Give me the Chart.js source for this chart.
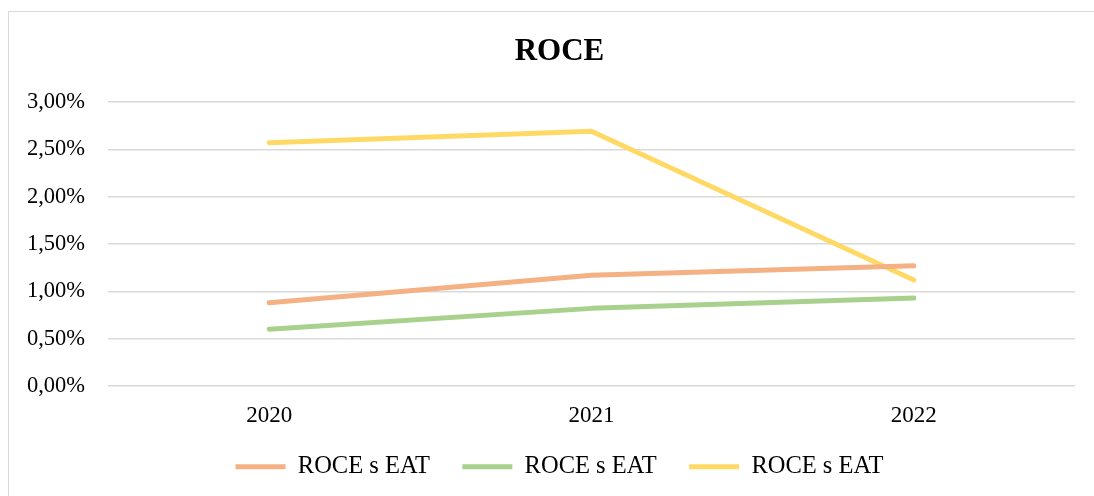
<!DOCTYPE html>
<html>
<head>
<meta charset="utf-8">
<script src="https://cdn.jsdelivr.net/npm/chart.js@4/dist/chart.umd.min.js"></script>
<style>
  html, body { margin: 0; padding: 0; background: #fff; overflow: hidden; }
  #wrap { position: relative; width: 1094px; height: 496px; }
  #frame { position: absolute; left: 8px; top: 11px; width: 1100px; height: 500px; border: 1px solid #d9d9d9; box-sizing: border-box; }
  canvas { position: absolute; left: 0; top: 0; }
</style>
</head>
<body>
<div id="wrap">
  <div id="frame"></div>
  <canvas id="c" width="1094" height="496"></canvas>
</div>
<script>
const categories = ['2020', '2021', '2022'];
const seriesNames = ['ROCE s EAT', 'ROCE s EAT', 'ROCE s EAT'];
const orangeValues = [0.88, 1.17, 1.27];
const greenValues = [0.60, 0.82, 0.93];
const yellowValues = [2.57, 2.69, 1.12];
const seriesColors = ['#F4B183', '#A9D18E', '#FFD966'];
const yTicks = { min: 0, max: 3, step: 0.5 };
const chartTitle = 'ROCE';

const FONT = "'Liberation Serif', 'Times New Roman', serif";

function mkSet(label, data, color) {
  return {
    label, data,
    borderColor: color,
    backgroundColor: color,
    borderWidth: 5,
    borderCapStyle: 'round',
    borderJoinStyle: 'round',
    pointRadius: 0,
    pointHoverRadius: 0,
    pointStyle: 'line',
    tension: 0,
    fill: false
  };
}

new Chart(document.getElementById('c'), {
  type: 'line',
  data: {
    labels: categories,
    datasets: [
      mkSet(seriesNames[0], orangeValues, seriesColors[0]),
      mkSet(seriesNames[1], greenValues, seriesColors[1]),
      mkSet(seriesNames[2], yellowValues, seriesColors[2])
    ]
  },
  options: {
    responsive: false,
    animation: false,
    devicePixelRatio: 1,
    layout: { padding: { left: 44, right: 19, top: 0, bottom: 8 } },
    plugins: {
      tooltip: { enabled: false },
      title: {
        display: true,
        text: chartTitle,
        color: '#000',
        font: { family: FONT, size: 31, weight: 'bold', lineHeight: 1.2 },
        padding: { top: 33.4, bottom: 31.4 }
      },
      legend: {
        position: 'bottom',
        maxHeight: 66,
        labels: {
          usePointStyle: true,
          pointStyle: 'line',
          pointStyleWidth: 50,
          padding: 32.5,
          color: '#000',
          font: { family: FONT, size: 24.5 }
        }
      }
    },
    scales: {
      x: {
        offset: true,
        grid: { display: false, drawTicks: false },
        border: { display: false },
        ticks: { color: '#000', padding: 16, font: { family: FONT, size: 23 }, maxRotation: 0 },
        afterFit(scale) {
          scale.height = 36;
          scale._computeLabelArea = () => undefined;
        }
      },
      y: {
        min: yTicks.min,
        max: yTicks.max,
        grid: { color: '#d9d9d9', lineWidth: 1.5, drawTicks: false },
        border: { display: false },
        ticks: {
          stepSize: yTicks.step,
          color: '#000',
          padding: 23,
          font: { family: FONT, size: 22.5 },
          callback: v => v.toFixed(2).replace('.', ',') + '%'
        },
        afterFit(scale) {
          scale.width = 64;
          scale._computeLabelArea = () => undefined;
        }
      }
    }
  }
});
</script>
</body>
</html>
